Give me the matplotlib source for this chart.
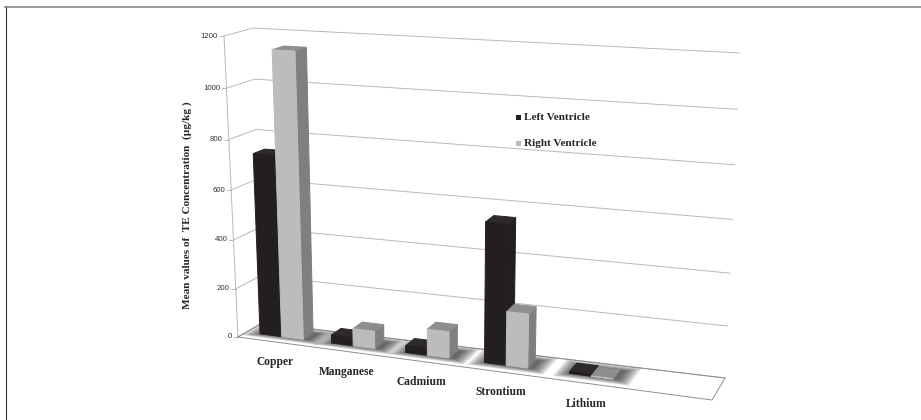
import numpy as np
import matplotlib
matplotlib.use("Agg")
import matplotlib.pyplot as plt
from matplotlib.patches import Polygon, Rectangle

categories = ["Copper", "Manganese", "Cadmium", "Strontium", "Lithium"]
left_ventricle = [735, 33, 28, 550, 8]
right_ventricle = [1145, 70, 105, 212, 1]
y_ticks = [0, 200, 400, 600, 800, 1000, 1200]
y_max = 1200

plt.rcParams['font.family'] = ['Liberation Serif', 'DejaVu Serif']

fig = plt.figure(figsize=(9.21, 4.2), dpi=100)
ax = fig.add_axes([0, 0, 1, 1])
# the axes run in picture pixels, the 3D box is laid out in them
ax.set_xlim(0, 921)
ax.set_ylim(420, 0)
ax.axis('off')

# box corners, bottom and top: front left, front right, back left, back right
FL0, FR0, BL0, BR0 = map(np.array, [(238, 337), (712, 400), (262, 323), (725, 378)])
FL1, FR1, BL1, BR1 = map(np.array, [(224, 36), (730, 65), (253, 28), (740, 53)])


def project(u, d, value):
    # u along the floor, d into the depth, value up the wall
    t = value / y_max
    t = t - 0.048 * t * (1 - t)
    bottom = (1 - d) * ((1 - u) * FL0 + u * FR0) + d * ((1 - u) * BL0 + u * BR0)
    top = (1 - d) * ((1 - u) * FL1 + u * FR1) + d * ((1 - u) * BL1 + u * BR1)
    return (1 - t) * bottom + t * top


def category_u(i):
    # slight perspective stretch towards the right
    s = (i + 0.5) / len(categories)
    return s * (0.75 + 0.08 * s ** 2)


def face(points, color, z):
    ax.add_patch(Polygon(points, closed=True, facecolor=color, edgecolor=color, lw=0.7, zorder=z))


line_col = '#b8b8b8'
for v in y_ticks:
    a, b, c = project(0, 0, v), project(0, 1, v), project(1, 1, v)
    ax.plot([a[0], b[0], c[0]], [a[1], b[1], c[1]], color=line_col, lw=0.7, zorder=1)
    ax.plot([a[0] - 4, a[0]], [a[1], a[1]], color=line_col, lw=0.7, zorder=1)
    ax.text(a[0] - 6, a[1], str(v), ha='right', va='center', fontsize=5.6,
            family='Liberation Sans', color='#333333')

a, b = project(0, 0, 0), project(0, 0, y_max)
ax.plot([a[0], b[0]], [a[1], b[1]], color=line_col, lw=0.7, zorder=1)
floor = [project(0, 0, 0), project(1, 0, 0), project(1, 1, 0), project(0, 1, 0), project(0, 0, 0)]
ax.plot([p[0] for p in floor], [p[1] for p in floor], color='#8f8f8f', lw=0.7, zorder=1)

bar_w = 0.046
d0, d1 = 0.35, 0.78
for i, name in enumerate(categories):
    uc = category_u(i)
    # soft shadow on the floor
    n = 16
    for k in range(n):
        m = 1 - k / (n - 1)
        mu, md = 0.03 * m, 0.22 * m
        sh = [project(uc - bar_w - mu, d0 - md, 0), project(uc + bar_w + mu + 0.012, d0 - md, 0),
              project(uc + bar_w + mu + 0.012, d1 + md, 0), project(uc - bar_w - mu, d1 + md, 0)]
        ax.add_patch(Polygon(sh, closed=True, facecolor='black', edgecolor='none', alpha=0.05, zorder=2))

    for j, (vals, front, top, side) in enumerate([
        (left_ventricle, '#231f20', '#2e2a2b', '#231f20'),
        (right_ventricle, '#bcbcbe', '#8e8e90', '#7f7f81'),
    ]):
        v = vals[i]
        ul, ur = uc - bar_w + j * bar_w, uc + j * bar_w
        z = 3 + i + j * 0.1
        face([project(ur, d0, 0), project(ur, d1, 0), project(ur, d1, v), project(ur, d0, v)], side, z)
        face([project(ul, d0, v), project(ur, d0, v), project(ur, d1, v), project(ul, d1, v)], top, z)
        face([project(ul, d0, 0), project(ur, d0, 0), project(ur, d0, v), project(ul, d0, v)], front, z)

    p = project(uc, 0, 0)
    ax.text(p[0] + 1, p[1] + 20.5, name, ha='center', va='center', fontsize=8.3,
            fontweight='bold', color='#262626')

ax.text(187, 205, "Mean values of  TE Concentration  (\u00b5g/kg )", rotation=90, ha='center', va='center',
        fontsize=8.1, fontweight='bold', color='#262626')

# legend
ax.add_patch(Rectangle((515.5, 114.5), 5, 5, facecolor='#231f20', edgecolor='none'))
ax.add_patch(Rectangle((515.5, 141), 5, 5, facecolor='#bcbcbe', edgecolor='none'))
ax.text(523.5, 117, "Left Ventricle", ha='left', va='center', fontsize=8.1, fontweight='bold', color='#262626')
ax.text(523.5, 144, "Right Ventricle", ha='left', va='center', fontsize=8.1, fontweight='bold', color='#262626')

# frame of the figure: only left and top, the rest is cut off
ax.plot([5.5, 5.5], [420, 6], color='#333333', lw=0.8)
ax.plot([5, 921], [6.5, 6.5], color='#8a8a8a', lw=1.2)

fig.savefig("out.png", dpi=100)
